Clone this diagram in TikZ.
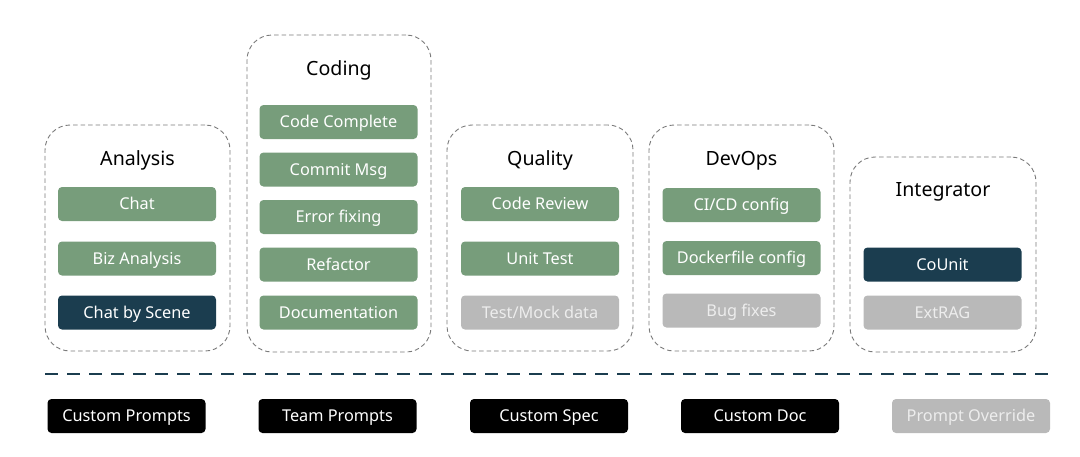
\documentclass[tikz,border=0pt]{standalone}
\usepackage{fontspec}
\setmainfont{Noto Sans}
\definecolor{cgreen}{HTML}{779D7B}
\definecolor{cteal}{HTML}{1B3D4F}
\definecolor{cgrey}{HTML}{B9B9B9}
\definecolor{cframe}{HTML}{7A7A7A}
\tikzset{
  box/.style={rounded corners=4pt, minimum width=158, minimum height=34, inner sep=0pt,
    font=\fontsize{16.3}{19}\selectfont, text height=11.6pt, text depth=0pt, text=white},
  gbox/.style={box, fill=cgreen},
  dbox/.style={box, fill=cteal},
  lbox/.style={box, fill=cgrey, text=white!93!black},
  kbox/.style={box, fill=black},
  group/.style={draw=cframe, dash pattern=on 4.5pt off 3pt, line width=0.9pt, rounded corners=25pt, inner sep=0pt},
  title/.style={font=\fontsize{19.6}{23}\selectfont, text height=14pt, text depth=0pt, inner sep=0pt, text=black},
}
\begin{document}
\begin{tikzpicture}[x=1pt,y=-1pt]
\useasboundingbox (0,0) rectangle (1080,456);
% groups
\node[group, minimum width=185, minimum height=226] (gA) at (137.5,238) {};
\node[group, minimum width=184, minimum height=317] (gC) at (339,193.5) {};
\node[group, minimum width=186, minimum height=226] (gQ) at (540,238) {};
\node[group, minimum width=185, minimum height=226] (gD) at (741.5,238) {};
\node[group, minimum width=186, minimum height=195] (gI) at (943,254.5) {};
% titles
\node[title] (tA) at (137.5,158) {Analysis};
\node[title] (tC) at (339,68) {Coding};
\node[title] (tQ) at (540,158) {Quality};
\node[title] (tD) at (741.5,158) {DevOps};
\node[title] (tI) at (943,189) {Integrator};
% Analysis
\node[gbox] (a1) at (137,204) {Chat};
\node[gbox] (a2) at (137,258.5) {Biz Analysis};
\node[dbox] (a3) at (137,312.5) {Chat by Scene};
% Coding
\node[gbox] (c1) at (338.5,122) {Code Complete};
\node[gbox] (c2) at (338.5,169.5) {Commit Msg};
\node[gbox] (c3) at (338.5,217) {Error fixing};
\node[gbox] (c4) at (338.5,264.5) {Refactor};
\node[gbox] (c5) at (338.5,312.5) {Documentation};
% Quality
\node[gbox] (q1) at (540,204) {Code Review};
\node[gbox] (q2) at (540,258.5) {Unit Test};
\node[lbox] (q3) at (540,312.5) {Test/Mock data};
% DevOps
\node[gbox] (d1) at (741.5,205) {CI/CD config};
\node[gbox] (d2) at (741.5,258) {Dockerfile config};
\node[lbox] (d3) at (741.5,310.5) {Bug fixes};
% Integrator
\node[dbox] (i1) at (942.5,264.5) {CoUnit};
\node[lbox] (i2) at (942.5,312.5) {ExtRAG};
% separator
\coordinate (ls) at (45,374);
\coordinate (le) at (1055,374);
\draw[cteal, line width=2.6pt, dash pattern=on 13pt off 9pt] (ls) -- (le);
% bottom
\node[kbox] (b1) at (126.5,416) {Custom Prompts};
\node[kbox] (b2) at (337.5,416) {Team Prompts};
\node[kbox] (b3) at (549,416) {Custom Spec};
\node[kbox] (b4) at (760,416) {Custom Doc};
\node[lbox] (b5) at (971,416) {Prompt Override};
\end{tikzpicture}
\end{document}
